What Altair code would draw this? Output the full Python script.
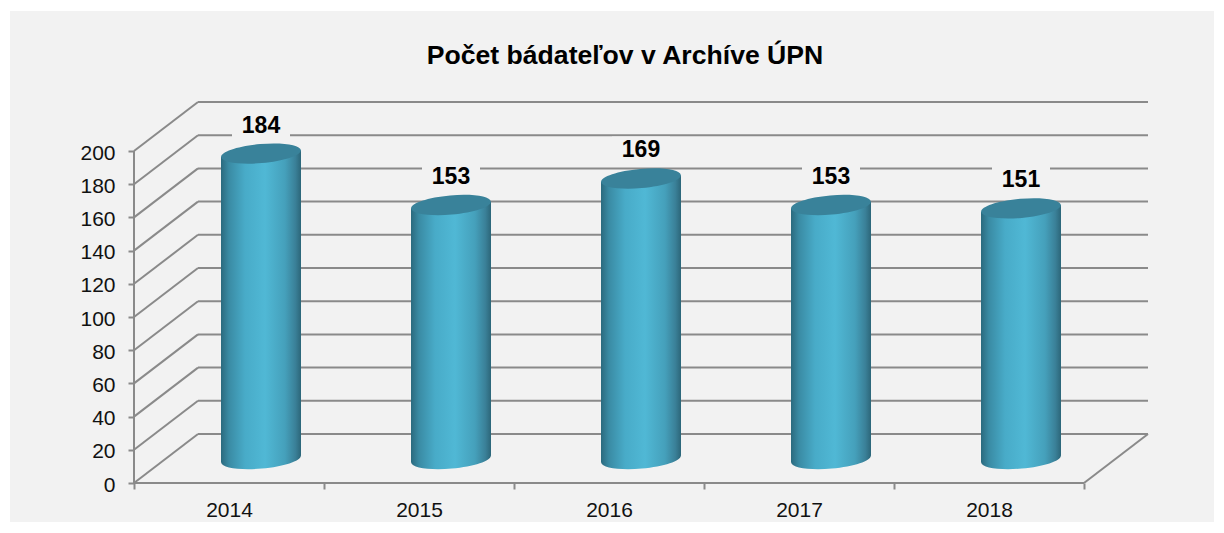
import altair as alt
import pandas as pd

years = ["2014", "2015", "2016", "2017", "2018"]
values = [184, 153, 169, 153, 151]
levels = [0, 20, 40, 60, 80, 100, 120, 140, 160, 180, 200]
title_text = "Počet bádateľov v Archíve ÚPN"

PANEL = "#f2f2f2"
GRID = "#8a8a8a"
FONT = "Liberation Sans"

# depth of the 3D box, in data units of the two scales
DX, DY = 64 / 190, 49 / 1.66
CX, CY = 32 / 190, 24 / 1.66
HALF = 40 / 190
TILT = 3.3 / 1.66

x_scale = alt.Scale(domain=[-0.5, -0.5 + 1014 / 190], nice=False, zero=False)
y_scale = alt.Scale(domain=[0, 381 / 1.66], nice=False, zero=False)

x_axis = alt.Axis(
    values=[-0.5, 0.5, 1.5, 2.5, 3.5, 4.5], domain=False, grid=False,
    tickColor=GRID, tickWidth=2, tickSize=6, labelOffset=95,
    labelExpr="['" + "','".join(years) + "'][datum.value + 0.5] || ''",
    labelOverlap=False, labelBound=False, labelFlush=False,
    labelFont=FONT, labelFontSize=21, labelColor="#111111",
    labelPadding=10, zindex=1,
)
y_axis = alt.Axis(
    values=levels, domain=False, grid=False,
    tickColor=GRID, tickWidth=2, tickSize=6, labelOffset=2,
    labelFont=FONT, labelFontSize=21, labelColor="#111111",
    labelPadding=13, zindex=1,
)

X = lambda f: alt.X(f, type="quantitative", scale=x_scale, axis=x_axis, title=None)
Y = lambda f: alt.Y(f, type="quantitative", scale=y_scale, axis=y_axis, title=None, stack=None)

grid = pd.DataFrame({"v": levels})
grid["x0"], grid["x1"], grid["x2"] = -0.5, -0.5 + DX, 4.5 + DX
grid["yb"] = grid["v"] + DY

bars = pd.DataFrame({"year": years, "value": values})
bars["i"] = range(len(years))
bars["cx"] = bars["i"] + CX
bars["base"] = CY
bars["top"] = bars["value"] + CY
bars["label"] = bars["top"] + 28 / 1.66
bars["mx0"] = bars["cx"] - 29 / 190
bars["mx1"] = bars["cx"] + 29 / 190
bars["my0"] = bars["label"] - 14 / 1.66
bars["my1"] = bars["label"] + 14 / 1.66

rows = []
for r in bars.itertuples():
    rows.append(dict(year=r.year, x=r.cx - HALF, y=r.top - TILT, y2=r.base - TILT))
    rows.append(dict(year=r.year, x=r.cx + HALF, y=r.top + TILT, y2=r.base + TILT))
body = pd.DataFrame(rows)

side = alt.Gradient(
    gradient="linear", x1=0, x2=1, y1=0, y2=0,
    stops=[
        alt.GradientStop(offset=0, color="#2b6a7e"),
        alt.GradientStop(offset=0.1, color="#3a8ba4"),
        alt.GradientStop(offset=0.3, color="#48abc8"),
        alt.GradientStop(offset=0.55, color="#50b8d5"),
        alt.GradientStop(offset=0.8, color="#45a0bb"),
        alt.GradientStop(offset=0.93, color="#3a8098"),
        alt.GradientStop(offset=1, color="#2c6679"),
    ],
)
ELLIPSE = (
    "M-0.9962,0.0872 A1,0.24,-5,1,1,0.9962,-0.0872 "
    "A1,0.24,-5,1,1,-0.9962,0.0872 Z"
)

panel = alt.Chart(pd.DataFrame({"a": [0]})).mark_rect(fill=PANEL).encode(
    x=alt.value(-124), x2=alt.value(1080), y=alt.value(-91), y2=alt.value(420)
)

rule = dict(color=GRID, strokeWidth=2)
back = alt.Chart(grid).mark_rule(**rule).encode(x=X("x1"), x2="x2", y=Y("yb"))
diag = alt.Chart(grid).mark_rule(**rule).encode(x=X("x0"), x2="x1", y=Y("v"), y2="yb")
left_axis = alt.Chart(pd.DataFrame({"x": [-0.5], "a": [0], "b": [200]})).mark_rule(**rule).encode(
    x=X("x"), y=Y("a"), y2="b"
)
floor_front = alt.Chart(pd.DataFrame({"a": [-0.5], "b": [4.5], "y": [0]})).mark_rule(**rule).encode(
    x=X("a"), x2="b", y=Y("y")
)
floor_right = alt.Chart(pd.DataFrame({"a": [4.5], "b": [4.5 + DX], "y": [0], "y2": [DY]})).mark_rule(**rule).encode(
    x=X("a"), x2="b", y=Y("y"), y2="y2"
)

mask = alt.Chart(bars).mark_rect(fill=PANEL).encode(
    x=X("mx0"), x2="mx1", y=Y("my0"), y2="my1"
)
labels = alt.Chart(bars).mark_text(
    font=FONT, fontSize=23, fontWeight="bold", color="#000000", baseline="middle"
).encode(x=X("cx"), y=Y("label"), text="value:Q")

bottom = alt.Chart(bars).mark_point(
    shape=ELLIPSE, size=6400, filled=True, fill=side, stroke=None, opacity=1
).encode(x=X("cx"), y=Y("base"))
cyl = alt.Chart(body).mark_area(fill=side, interpolate="linear", opacity=1).encode(
    x=X("x"), y=Y("y"), y2="y2", detail="year:N"
)
top = alt.Chart(bars).mark_point(
    shape=ELLIPSE, size=6400, filled=True, fill="#39829a", stroke=None, opacity=1
).encode(x=X("cx"), y=Y("top"))

chart = alt.layer(
    panel, diag, back, left_axis, floor_front, floor_right,
    mask, labels, bottom, cyl, top,
).properties(
    width=1014,
    height=381,
    background="#ffffff",
    autosize=alt.AutoSizeParams(type="none"),
    padding={"left": 126, "top": 94, "right": 68, "bottom": 45},
    title=alt.TitleParams(
        title_text, font=FONT, fontSize=26.6, fontWeight="bold", color="#000000",
        anchor="middle", frame="group", dx=-16, dy=59, offset=0,
    ),
).configure_view(stroke=None)

chart.save("out.html", embed_options={"renderer": "svg", "actions": False})
